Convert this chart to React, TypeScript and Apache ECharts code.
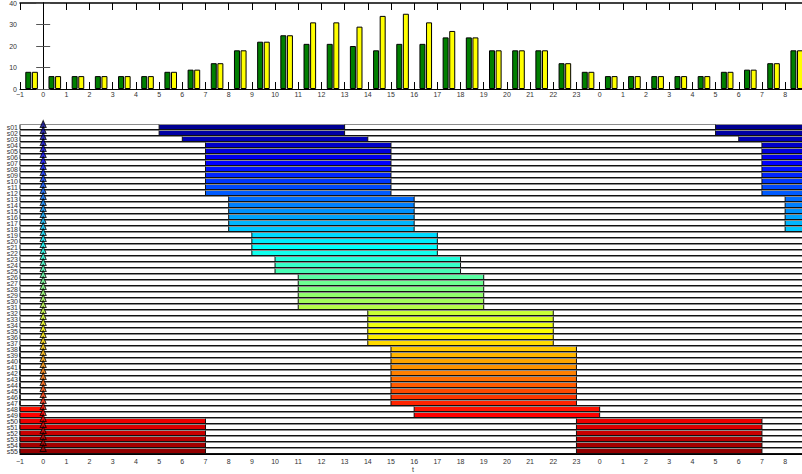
import React, { useEffect, useRef } from 'react';
import * as echarts from 'echarts';

// ---------- data ----------
const X_MIN = -1;
const X_MAX = 32.9;

// centres of the hourly bar pairs (hour slots drawn on the time axis)
const barCenters = [
  -0.5, 0.5, 1.5, 2.5, 3.5, 4.5, 5.5, 6.5, 7.5, 8.5, 9.5, 10.5, 11.5, 12.5, 13.5, 14.5, 15.5,
  16.5, 17.5, 18.5, 19.5, 20.5, 21.5, 22.5, 23.5, 24.5, 25.5, 26.5, 27.5, 28.5, 29.5, 30.5, 31.5, 32.5,
];
const demand = [
  8, 6, 6, 6, 6, 6, 8, 9, 12, 18, 22, 25, 21, 21, 20, 18, 21,
  21, 24, 24, 18, 18, 18, 12, 8, 6, 6, 6, 6, 6, 8, 9, 12, 18,
];
const coverage = [
  8, 6, 6, 6, 6, 6, 8, 9, 12, 18, 22, 25, 31, 31, 29, 34, 35,
  31, 27, 24, 18, 18, 18, 12, 8, 6, 6, 6, 6, 6, 8, 9, 12, 18,
];

const rowNames = [
  's01', 's02', 's03', 's04', 's05', 's06', 's07', 's08', 's09', 's10', 's11',
  's12', 's13', 's14', 's15', 's16', 's17', 's18', 's19', 's20', 's21', 's22',
  's23', 's24', 's25', 's26', 's27', 's28', 's29', 's30', 's31', 's32', 's33',
  's34', 's35', 's36', 's37', 's38', 's39', 's40', 's41', 's42', 's43', 's44',
  's45', 's46', 's47', 's48', 's49', 's50', 's51', 's52', 's53', 's54', 's55',
];
const shiftStart = [
  5, 5, 6, 7, 7, 7, 7, 7, 7, 7, 7,
  7, 8, 8, 8, 8, 8, 8, 9, 9, 9, 9,
  10, 10, 10, 11, 11, 11, 11, 11, 11, 14, 14,
  14, 14, 14, 14, 15, 15, 15, 15, 15, 15, 15,
  15, 15, 15, 16, 16, 23, 23, 23, 23, 23, 23,
];
const shiftEnd = [
  13, 13, 14, 15, 15, 15, 15, 15, 15, 15, 15,
  15, 16, 16, 16, 16, 16, 16, 17, 17, 17, 17,
  18, 18, 18, 19, 19, 19, 19, 19, 19, 22, 22,
  22, 22, 22, 22, 23, 23, 23, 23, 23, 23, 23,
  23, 23, 23, 24, 24, 31, 31, 31, 31, 31, 31,
];
const DAY = 24;

// ---------- styling helpers ----------
function jetColors(n: number): string[] {
  const m = Math.ceil(n / 4);
  const u: number[] = [];
  for (let i = 1; i <= m; i++) u.push(i / m);
  for (let i = 1; i < m; i++) u.push(1);
  for (let i = m; i >= 1; i--) u.push(i / m);
  const off = Math.ceil(m / 2) - (n % 4 === 1 ? 1 : 0);
  const g: number[] = [], r: number[] = [], b: number[] = [];
  for (let i = 1; i <= u.length; i++) {
    const gi = off + i;
    g.push(gi); r.push(gi + m); b.push(gi - m);
  }
  const J = Array.from({ length: n }, () => [0, 0, 0]);
  const gF = g.filter((v) => v <= n);
  const rF = r.filter((v) => v <= n);
  const bF = b.filter((v) => v >= 1);
  rF.forEach((idx, k) => (J[idx - 1][0] = u[k]));
  gF.forEach((idx, k) => (J[idx - 1][1] = u[k]));
  bF.forEach((idx, k) => (J[idx - 1][2] = u[u.length - bF.length + k]));
  return J.map(([R, G, B]) => `rgb(${Math.round(R * 255)},${Math.round(G * 255)},${Math.round(B * 255)})`);
}

const FONT = 'Liberation Sans, Arial, Helvetica, sans-serif';
const LABEL_COLOR = '#333';

function hourLabel(v: number): string {
  if (Math.abs(v - Math.round(v)) > 1e-6) return '';
  const k = Math.round(v);
  return k < 0 ? '\u2212' + -k : String(k % DAY);
}

export default function App() {
  const ref = useRef<HTMLDivElement>(null);

  useEffect(() => {
    if (!ref.current) return;
    const chart = echarts.init(ref.current, null, { renderer: 'svg' });
    const colors = jetColors(rowNames.length);

    const bgData = rowNames.map((_, i) => [X_MIN, X_MAX, i]);
    const shiftData: number[][] = [];
    rowNames.forEach((_, i) => {
      for (const off of [-DAY, 0, DAY]) {
        shiftData.push([shiftStart[i] + off, shiftEnd[i] + off, i]);
      }
    });

    const makeRender = (fillFn: (i: number) => string) => (params: any, api: any) => {
      const row = api.value(2);
      const p0 = api.coord([api.value(0), row]);
      const p1 = api.coord([api.value(1), row]);
      const cy = Math.round(p0[1]);
      const top = cy - 2.5;
      const h = 5;
      const cs = params.coordSys;
      const shape = echarts.graphic.clipRectByRect(
        { x: p0[0], y: top, width: p1[0] - p0[0], height: h },
        { x: cs.x, y: cs.y - 5, width: cs.width, height: cs.height + 10 }
      );
      if (!shape) return null;
      return {
        type: 'group',
        children: [
          {
            type: 'rect',
            shape,
            style: { fill: fillFn(row), stroke: '#111', lineWidth: 1 },
          },
          {
            type: 'line',
            shape: { x1: shape.x, y1: top, x2: shape.x + shape.width, y2: top },
            style: { stroke: '#8c8c8c', lineWidth: 1 },
          },
        ],
      };
    };

    const hourAxisBase = {
      type: 'value',
      min: X_MIN,
      max: X_MAX,
      interval: 1,
      splitLine: { show: false },
      axisLine: { show: true, onZero: false, lineStyle: { color: '#000', width: 1 } },
      axisTick: { show: true, inside: true, length: 7, lineStyle: { color: '#000' } },
    };

    const option: any = {
      animation: false,
      backgroundColor: '#fff',
      textStyle: { fontFamily: FONT },
      grid: [
        { left: 20, top: 3, width: 786, height: 86, outerBoundsMode: 'none', containLabel: false },
        { left: 20, top: 124, width: 786, height: 330, outerBoundsMode: 'none', containLabel: false },
      ],
      xAxis: [
        {
          ...hourAxisBase,
          gridIndex: 0,
          position: 'bottom',
          axisLabel: { formatter: hourLabel, fontSize: 7, color: LABEL_COLOR, margin: 2, fontFamily: FONT },
        },
        {
          ...hourAxisBase,
          gridIndex: 0,
          position: 'top',
          axisLabel: { show: false },
          axisLine: { show: true, onZero: false, lineStyle: { color: '#000', width: 1.5 } },
        },
        {
          ...hourAxisBase,
          gridIndex: 1,
          position: 'bottom',
          name: 't',
          nameLocation: 'middle',
          nameGap: 12,
          nameMoveOverlap: false,
          nameTextStyle: { fontSize: 7, color: LABEL_COLOR, fontFamily: FONT, lineHeight: 7 },
          axisLabel: { formatter: hourLabel, fontSize: 7, color: LABEL_COLOR, margin: 4, fontFamily: FONT },
        },
      ],
      yAxis: [
        {
          type: 'value',
          gridIndex: 0,
          min: 0,
          max: 40,
          interval: 10,
          position: 'left',
          splitLine: { show: false },
          axisLine: { show: true, lineStyle: { color: '#000' } },
          axisTick: { show: true, inside: true, length: 7, lineStyle: { color: '#555' } },
          axisLabel: { fontSize: 7, color: LABEL_COLOR, margin: 3, fontFamily: FONT },
        },
        {
          type: 'value',
          gridIndex: 0,
          min: 0,
          max: 40,
          interval: 10,
          position: 'right',
          splitLine: { show: false },
          axisLine: { show: true, lineStyle: { color: '#000' } },
          axisTick: { show: true, inside: true, length: 7, lineStyle: { color: '#555' } },
          axisLabel: { show: false },
        },
        {
          type: 'category',
          gridIndex: 1,
          data: rowNames,
          inverse: true,
          position: 'left',
          axisLine: { show: true, lineStyle: { color: '#000' } },
          axisTick: { show: true, inside: true, length: 7, alignWithLabel: true, interval: 0, lineStyle: { color: '#777' } },
          axisLabel: { interval: 0, fontSize: 7, color: LABEL_COLOR, margin: 2, fontFamily: FONT, lineHeight: 6 },
          splitLine: { show: false },
        },
      ],
      series: [
        {
          name: 'demand',
          type: 'bar',
          xAxisIndex: 0,
          yAxisIndex: 0,
          barWidth: 6,
          barGap: '10%',
          data: barCenters.map((x, i) => [x, demand[i]]),
          itemStyle: { color: '#007f00', borderColor: '#000', borderWidth: 1 },
        },
        {
          name: 'coverage',
          type: 'bar',
          xAxisIndex: 0,
          yAxisIndex: 0,
          barWidth: 6,
          barGap: '10%',
          data: barCenters.map((x, i) => [x, coverage[i]]),
          itemStyle: { color: '#ffff00', borderColor: '#000', borderWidth: 1 },
        },
        {
          name: 'rows',
          type: 'custom',
          xAxisIndex: 2,
          yAxisIndex: 2,
          encode: { x: [0, 1], y: 2 },
          data: bgData,
          renderItem: makeRender(() => '#fff'),
          z: 2,
        },
        {
          name: 'shifts',
          type: 'custom',
          xAxisIndex: 2,
          yAxisIndex: 2,
          encode: { x: [0, 1], y: 2 },
          data: shiftData,
          renderItem: makeRender((i) => colors[i]),
          z: 3,
        },
        {
          name: 'start',
          type: 'scatter',
          xAxisIndex: 2,
          yAxisIndex: 2,
          symbol: 'triangle',
          symbolSize: [6, 7],
          symbolOffset: [0, -3],
          z: 5,
          data: rowNames.map((_, i) => ({
            value: [0, i],
            itemStyle: { color: colors[i], borderColor: '#000', borderWidth: 1 },
          })),
        },
      ],
    };

    chart.setOption(option);
    return () => chart.dispose();
  }, []);

  return (
    <div
      style={{
        position: 'fixed',
        left: 0,
        top: 0,
        width: 802,
        height: 474,
        overflow: 'hidden',
        background: '#fff',
      }}
    >
      <div ref={ref} style={{ width: 810, height: 474 }} />
    </div>
  );
}
